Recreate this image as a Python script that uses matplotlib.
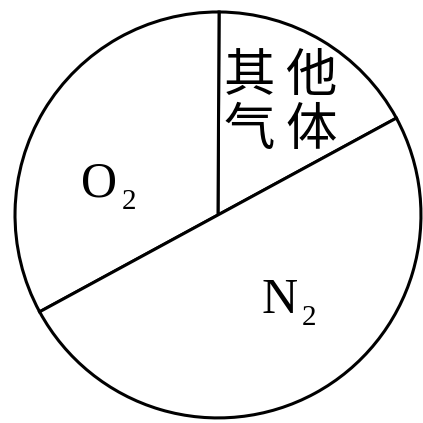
import matplotlib
matplotlib.use("Agg")
import matplotlib.pyplot as plt

# Share of each gas (schematic pie)
gases = ['其他气体', 'O2', 'N2']
shares = [17, 33, 50]

fig = plt.figure(figsize=(4.23, 4.23), dpi=100)
ax = fig.add_axes([0, 0, 1, 1])
ax.pie(shares, startangle=28.5, counterclock=True,
       colors=['white'] * len(shares),
       wedgeprops=dict(edgecolor='black', linewidth=2.2))
ax.set_xlim(-1.074, 1.010)
ax.set_ylim(-1.025, 1.059)
ax.set_aspect('auto')
ax.axis('off')

# Gas labels: element letter plus a lowered, smaller subscript
serif = dict(family='Liberation Serif', ha='left', va='baseline')
ax.text(-0.675, 0.089, 'O', fontsize=36, **serif)
ax.text(-0.472, 0.030, '2', fontsize=21, **serif)
ax.text(0.212, -0.483, 'N', fontsize=36, **serif)
ax.text(0.415, -0.542, '2', fontsize=21, **serif)

cjk = dict(fontsize=37, family=['Noto Sans CJK SC', 'DejaVu Sans'],
           ha='center', va='center')
ax.text(0.153, 0.685, '其', **cjk)
ax.text(0.458, 0.685, '他', **cjk)
ax.text(0.153, 0.417, '气', **cjk)
ax.text(0.458, 0.417, '体', **cjk)

fig.savefig('out.png', dpi=100, facecolor='white')
